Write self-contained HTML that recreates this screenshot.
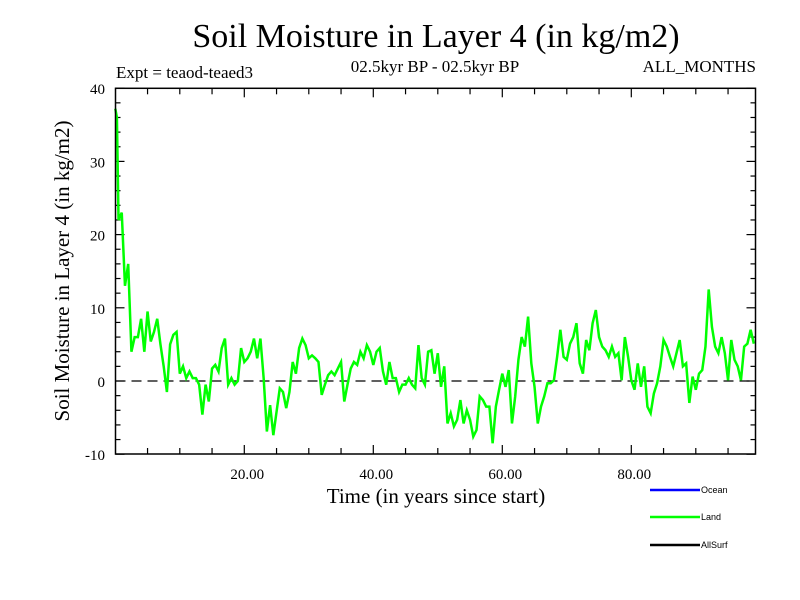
<!DOCTYPE html>
<html><head><meta charset="utf-8"><style>
body{margin:0;background:#fff}
svg{display:block;font-family:"Liberation Serif",serif}
</style></head><body>
<svg id="c" width="800" height="600" viewBox="0 0 800 600">
<text x="436" y="47" font-size="34" text-anchor="middle">Soil Moisture in Layer 4 (in kg/m2)</text>
<text x="116" y="78" font-size="17">Expt = teaod-teaed3</text>
<text x="435" y="72" font-size="17" text-anchor="middle">02.5kyr BP - 02.5kyr BP</text>
<text x="756" y="72" font-size="17" text-anchor="end">ALL_MONTHS</text>
<text transform="translate(69,271) rotate(-90)" font-size="21" text-anchor="middle">Soil Moisture in Layer 4 (in kg/m2)</text>
<text x="436" y="503" font-size="21" text-anchor="middle">Time (in years since start)</text>
<g id="axes"></g>
<g id="series"></g>
<rect x="115.5" y="88.3" width="640" height="365.7" fill="none" stroke="#000" stroke-width="1.5"/>
<g font-family="Liberation Sans, sans-serif" font-size="9">
<line x1="650" y1="490" x2="700" y2="490" stroke="#0000ff" stroke-width="2.5"/>
<text x="701" y="493">Ocean</text>
<line x1="650" y1="517" x2="700" y2="517" stroke="#00ff00" stroke-width="2.5"/>
<text x="701" y="520">Land</text>
<line x1="650" y1="545" x2="700" y2="545" stroke="#000" stroke-width="2.5"/>
<text x="701" y="548">AllSurf</text>
</g>
</svg>
<script>
const years=[0,0.25,0.5,1,1.5,2,2.5,3,3.5,4,4.5,5,5.5,6,6.5,7,7.5,8,8.5,9,9.5,10,10.5,11,11.5,12,12.5,13,13.5,14,14.5,15,15.5,16,16.5,17,17.5,18,18.5,19,19.5,20,20.5,21,21.5,22,22.5,23,23.5,24,24.5,25,25.5,26,26.5,27,27.5,28,28.5,29,29.5,30,30.5,31,31.5,32,32.5,33,33.5,34,34.5,35,35.5,36,36.5,37,37.5,38,38.5,39,39.5,40,40.5,41,41.5,42,42.5,43,43.5,44,44.5,45,45.5,46,46.5,47,47.5,48,48.5,49,49.5,50,50.5,51,51.5,52,52.5,53,53.5,54,54.5,55,55.5,56,56.5,57,57.5,58,58.5,59,59.5,60,60.5,61,61.5,62,62.5,63,63.5,64,64.5,65,65.5,66,66.5,67,67.5,68,68.5,69,69.5,70,70.5,71,71.5,72,72.5,73,73.5,74,74.5,75,75.5,76,76.5,77,77.5,78,78.5,79,79.5,80,80.5,81,81.5,82,82.5,83,83.5,84,84.5,85,85.5,86,86.5,87,87.5,88,88.5,89,89.5,90,90.5,91,91.5,92,92.5,93,93.5,94,94.5,95,95.5,96,96.5,97,97.5,98,98.5,99];
const land=[37.2,36,22,23,13,16,4,6,6,8.5,4,9.5,5.4,6.7,8.5,5,2,-1.5,5,6.3,6.7,1,2,0.4,1.3,0.4,0.4,-0.5,-4.6,-0.5,-2.8,1.7,2.2,1.3,4.5,5.8,-0.5,0.4,-0.5,0,4.5,2.6,3.1,4,5.8,3.1,5.8,0.4,-6.9,-3.3,-7.4,-4.2,-1,-1.5,-3.7,-1.5,2.6,1,4.5,5.8,4.9,3.1,3.5,3.1,2.6,-1.9,-0.5,0.8,1.3,0.8,1.7,2.6,-2.8,-0.5,1.7,2.6,2.2,4,3.1,4.9,4,2.2,4,4.5,1.3,-0.5,2.6,0.4,0.4,-1.5,-0.5,-0.5,0.4,-0.5,-1,4.9,0.4,-0.5,4,4.2,1,3.8,-0.8,2,-5.8,-4.4,-6.2,-5.3,-2.6,-5.8,-4,-5.3,-7.6,-6.7,-2.1,-2.6,-3.5,-3.5,-8.5,-3.5,-1.2,1,-0.8,1.5,-5.8,-2.1,2.9,6,4.7,8.8,2.4,-0.8,-5.8,-3.5,-2.1,-0.3,-0.3,0.1,3.3,7,3.3,2.9,5.1,6,7.9,2.4,1,5.6,4.2,7.9,9.7,6,4.7,4.2,3.3,4.7,3.3,3.8,0.1,6,3.3,0.1,-1.2,2.4,-0.8,2,-3.5,-4.4,-1.7,-0.3,2,5.6,4.7,3.3,2,3.8,5.6,2,2.4,-3,0.6,-1.2,1,1.5,4.7,12.5,7.4,4.7,3.8,6,3.8,0.1,5.6,2.9,2,0.1,4.7,5.1,7,5.1];
const yTicks=[40,30,20,10,0,-10];
const xTicks=[20,40,60,80];
const X=v=>115.3+6.45*v, Y=v=>381-7.32*v;
const NS='http://www.w3.org/2000/svg';
const ax=document.getElementById('axes'), sg=document.getElementById('series');
function mk(t,a,p){const e=document.createElementNS(NS,t);for(const k in a)e.setAttribute(k,a[k]);p.appendChild(e);return e;}
for(let v=-10;v<=40;v+=2){const L=v%10===0?9:5;
 mk('line',{x1:115.5,x2:115.5+L,y1:Y(v),y2:Y(v),stroke:'#000','stroke-width':1.2},ax);
 mk('line',{x1:755.5,x2:755.5-L,y1:Y(v),y2:Y(v),stroke:'#000','stroke-width':1.2},ax);}
for(let v=5;v<100;v+=5){const L=v%20===0?9:6;
 mk('line',{x1:X(v),x2:X(v),y1:454,y2:454-L,stroke:'#000','stroke-width':1.2},ax);
 mk('line',{x1:X(v),x2:X(v),y1:88.3,y2:88.3+L,stroke:'#000','stroke-width':1.2},ax);}
yTicks.forEach(v=>{const t=mk('text',{x:105,y:Y(v)+6,'font-size':15,'text-anchor':'end'},ax);t.textContent=v;
 
 });
xTicks.forEach(v=>{const t=mk('text',{x:X(v)+3,y:479,'font-size':15,'text-anchor':'middle'},ax);t.textContent=v.toFixed(2);
 
 });
const z=mk('line',{x1:115.5,x2:755.5,y1:Y(0),y2:Y(0),stroke:'#000','stroke-width':1.2,'stroke-dasharray':'10,6'},ax);


const pl=mk('polyline',{points:years.map((y,i)=>X(y)+','+Y(land[i])).join(' '),fill:'none',stroke:'#00ff00','stroke-width':2.5,'stroke-linejoin':'miter'},sg);


</script>
</body></html>
